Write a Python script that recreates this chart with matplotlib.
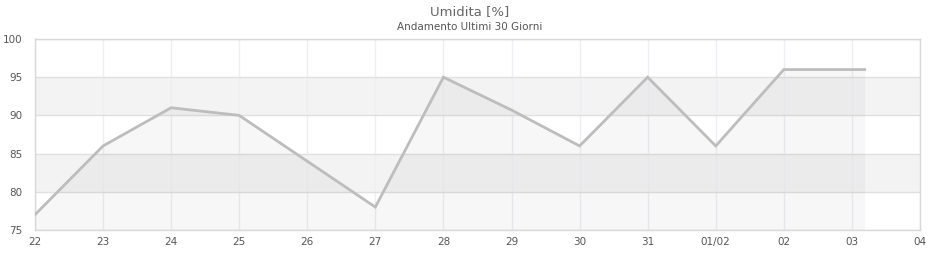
import matplotlib
matplotlib.use("Agg")
import matplotlib.pyplot as plt
import matplotlib.dates as mdates
import pandas as pd

timestamps = ["2024-01-22 00:00", "2024-01-23 00:00", "2024-01-24 00:00", "2024-01-25 00:00",
              "2024-01-26 00:00", "2024-01-27 00:00", "2024-01-28 00:00", "2024-01-29 00:00",
              "2024-01-30 00:00", "2024-01-31 00:00", "2024-02-01 00:00", "2024-02-02 00:00",
              "2024-02-03 00:00", "2024-02-03 04:30"]
humidity = [77, 86, 91, 90, 84, 78, 95, 90.7, 86, 95, 86, 96, 96, 96]
tick_dates = pd.date_range("2024-01-22", "2024-02-04", freq="D")
y_ticks = [75, 80, 85, 90, 95, 100]
bands = [(80, 85), (90, 95)]

title = "Umidita [%]"
subtitle = "Andamento Ultimi 30 Giorni"

x = mdates.date2num(pd.to_datetime(timestamps, format="%Y-%m-%d %H:%M"))
xt = mdates.date2num(tick_dates)

fig = plt.figure(figsize=(9.4, 2.6), dpi=100)
ax = fig.add_axes([0.0372, 0.1154, 0.9415, 0.7346])

for lo, hi in bands:
    ax.axhspan(lo, hi, color="#f3f3f3", zorder=0, lw=0)

ax.fill_between(x, humidity, 75, color="black", alpha=0.03, lw=0, zorder=1)
ax.plot(x, humidity, color="#bdbdbd", lw=2.0, zorder=3, solid_joinstyle="miter")

ax.set_xlim(xt[0], xt[-1])
ax.set_ylim(75, 100)
ax.set_yticks(y_ticks)
ax.set_xticks(xt)
labels = [d.strftime("%d/%m") if d.day == 1 else d.strftime("%d") for d in tick_dates]
ax.set_xticklabels(labels)

ax.grid(axis="x", color="#eeeef5", lw=1, zorder=0.5)
ax.grid(axis="y", color="#e0e0e0", lw=1, zorder=0.5)
ax.set_axisbelow(True)
for s in ax.spines.values():
    s.set_color("#d8d8d8")
    s.set_linewidth(1)
ax.tick_params(length=0, labelsize=7.5, colors="#555555", pad=5)
ax.tick_params(axis="y", pad=9)

fig.text(0.5, 0.955, title, ha="center", va="center", fontsize=9.5, color="#666666")
fig.text(0.5, 0.895, subtitle, ha="center", va="center", fontsize=7.5, color="#555555")

fig.savefig("out.png", dpi=100)
